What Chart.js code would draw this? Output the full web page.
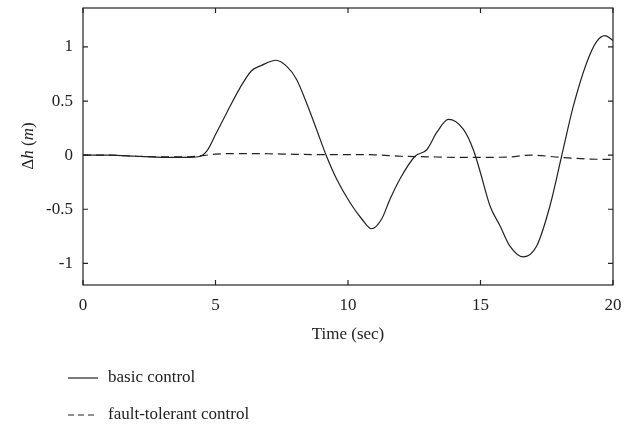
<!DOCTYPE html>
<html>
<head>
<meta charset="utf-8">
<script src="https://cdn.jsdelivr.net/npm/chart.js@4/dist/chart.umd.min.js"></script>
<style>
  html, body { margin: 0; padding: 0; background: #fff; }
  #wrap { width: 637px; height: 428px; }
</style>
</head>
<body>
<div id="wrap"><canvas id="myChart"></canvas></div>
<script>
// data
let basicTime = [0, 1, 2, 3, 4, 4.35, 4.67, 5.04, 5.42, 5.92, 6.36, 6.74, 7.28, 7.69, 8.06, 8.44, 8.81, 9.19, 9.57, 10.08, 10.52, 10.89, 11.27, 11.58, 11.96, 12.53, 12.97, 13.35, 13.79, 14.35, 14.73, 14.96, 15.36, 15.74, 16.11, 16.62, 17.12, 17.62, 18.06, 18.5, 19.0, 19.38, 19.7, 20];
let basicControl = [0, 0, -0.01, -0.02, -0.02, -0.015, 0.037, 0.21, 0.39, 0.62, 0.78, 0.83, 0.877, 0.82, 0.70, 0.48, 0.24, -0.01, -0.22, -0.44, -0.59, -0.68, -0.59, -0.41, -0.22, -0.01, 0.05, 0.21, 0.33, 0.24, 0.05, -0.13, -0.47, -0.655, -0.84, -0.94, -0.84, -0.47, -0.01, 0.45, 0.85, 1.05, 1.105, 1.06];
let faultTime = [0, 1, 2, 3, 4, 4.5, 5, 6, 7, 8, 9, 10, 11, 12, 13, 14, 15, 16, 16.9, 18, 19, 20];
let faultTolerant = [0, 0, -0.01, -0.015, -0.015, -0.005, 0.01, 0.015, 0.013, 0.008, 0.005, 0.005, 0.003, -0.01, -0.015, -0.02, -0.02, -0.018, 0, -0.02, -0.035, -0.04];
let xTicks = [0, 5, 10, 15, 20];
let yTicks = [-1, -0.5, 0, 0.5, 1];

const serif = "'Liberation Serif', 'DejaVu Serif', serif";
const ink = "#222";
const fontSize = 17;

function toPoints(xs, ys) {
    return xs.map((x, i) => ({ x: x, y: ys[i] }));
}

// box with ticks pointing inward on all four sides, and the y title
const frame = {
    id: "frame",
    afterDatasetsDraw(chart) {
        const { ctx, chartArea: a, scales } = chart;
        ctx.save();
        ctx.strokeStyle = ink;
        ctx.lineWidth = 1.2;
        ctx.strokeRect(a.left, a.top, a.right - a.left, a.bottom - a.top);
        ctx.beginPath();
        xTicks.forEach((v) => {
            const px = scales.x.getPixelForValue(v);
            ctx.moveTo(px, a.bottom); ctx.lineTo(px, a.bottom - 5);
            ctx.moveTo(px, a.top); ctx.lineTo(px, a.top + 5);
        });
        yTicks.forEach((v) => {
            const py = scales.y.getPixelForValue(v);
            ctx.moveTo(a.left, py); ctx.lineTo(a.left + 5, py);
            ctx.moveTo(a.right, py); ctx.lineTo(a.right - 5, py);
        });
        ctx.stroke();

        // y title: Δh (m) with italic h and m
        const parts = [["Δ", ""], ["h", "italic "], [" (", ""], ["m", "italic "], [")", ""]];
        let total = 0;
        parts.forEach((p) => { ctx.font = p[1] + fontSize + "px " + serif; total += ctx.measureText(p[0]).width; });
        ctx.translate(29, 146);
        ctx.rotate(-Math.PI / 2);
        ctx.fillStyle = ink;
        ctx.textBaseline = "middle";
        let cx = -total / 2;
        parts.forEach((p) => {
            ctx.font = p[1] + fontSize + "px " + serif;
            ctx.fillText(p[0], cx, 0);
            cx += ctx.measureText(p[0]).width;
        });
        ctx.restore();
    },
    afterDraw(chart) {
        // legend stacked under the axis title
        const { ctx } = chart;
        ctx.save();
        chart.data.datasets.forEach((ds, i) => {
            const y = 378 + i * 37;
            ctx.strokeStyle = ds.borderColor;
            ctx.lineWidth = 1.2;
            ctx.setLineDash(i === 0 ? [] : [6, 4]);
            ctx.beginPath();
            ctx.moveTo(68, y); ctx.lineTo(98, y);
            ctx.stroke();
            ctx.setLineDash([]);
            ctx.fillStyle = ink;
            ctx.font = fontSize + "px " + serif;
            ctx.textBaseline = "middle";
            ctx.fillText(ds.label, 108, y);
        });
        ctx.restore();
    },
};

const ctx = document.getElementById("myChart");
const myChart = new Chart(ctx, {
    type: "line",
    data: {
        datasets: [
            {
                label: "basic control",
                data: toPoints(basicTime, basicControl),
                borderColor: ink,
                borderWidth: 1.2,
                pointRadius: 0,
                fill: false,
                cubicInterpolationMode: "monotone",
            },
            {
                label: "fault-tolerant control",
                data: toPoints(faultTime, faultTolerant),
                borderColor: ink,
                borderWidth: 1.2,
                borderDash: [8, 5],
                pointRadius: 0,
                fill: false,
                cubicInterpolationMode: "monotone",
            },
        ],
    },
    options: {
        responsive: true,
        maintainAspectRatio: false,
        animation: false,
        layout: { padding: { top: 8, right: 24, bottom: 83, left: 0 } },
        plugins: {
            legend: { display: false },
            tooltip: { enabled: false },
        },
        scales: {
            x: {
                type: "linear",
                min: 0,
                max: 20,
                afterBuildTicks: (s) => { s.ticks = xTicks.map((v) => ({ value: v })); },
                afterFit: (s) => { s.height = 60; s.paddingLeft = 0; s.paddingRight = 0; },
                grid: { display: false, drawTicks: false },
                border: { display: false },
                ticks: { color: ink, padding: 10, font: { family: serif, size: fontSize } },
                title: {
                    display: true,
                    text: "Time (sec)",
                    color: ink,
                    font: { family: serif, size: fontSize },
                    padding: { top: 4, bottom: 0 },
                },
            },
            y: {
                min: -1.2,
                max: 1.36,
                afterBuildTicks: (s) => { s.ticks = yTicks.map((v) => ({ value: v })); },
                afterFit: (s) => { s.width = 83; s.paddingTop = 0; s.paddingBottom = 0; },
                grid: { display: false, drawTicks: false },
                border: { display: false },
                ticks: {
                    color: ink,
                    padding: 10,
                    font: { family: serif, size: fontSize },
                    callback: (v) => String(v),
                },
            },
        },
    },
    plugins: [frame],
});
</script>
</body>
</html>
